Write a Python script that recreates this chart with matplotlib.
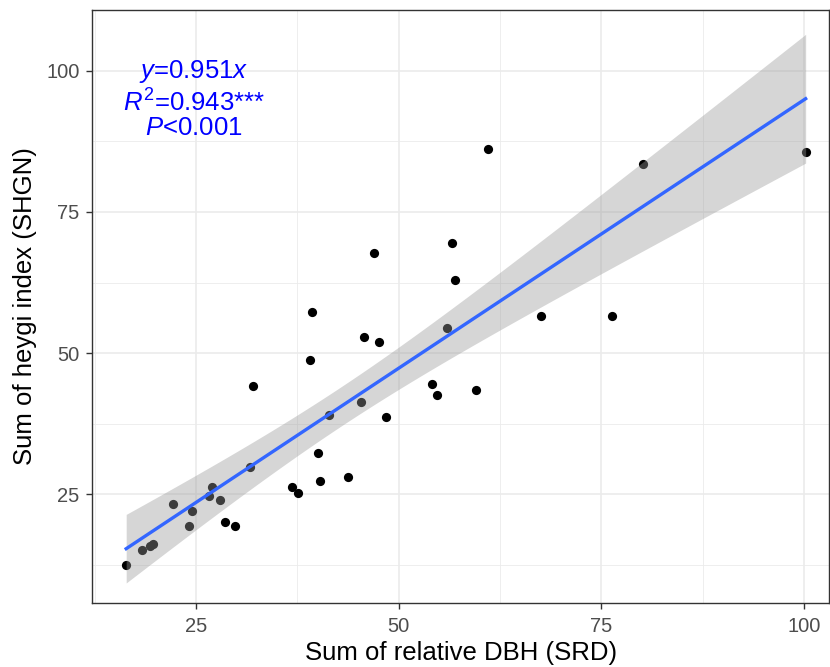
import matplotlib
matplotlib.use("Agg")
import matplotlib.pyplot as plt
import numpy as np

plt.rcParams["font.family"] = ["Liberation Sans", "DejaVu Sans"]
plt.rcParams["mathtext.fontset"] = "custom"
plt.rcParams["mathtext.rm"] = "Liberation Sans"
plt.rcParams["mathtext.it"] = "Liberation Sans:italic"

# Sum of relative DBH (SRD) vs sum of heygi index (SHGN)
srd = [16.4, 18.3, 19.3, 19.7, 22.2, 24.5, 24.2, 26.6, 27.0, 28.0,
       28.6, 29.8, 31.7, 32.1, 36.9, 37.6, 40.1, 40.3, 41.4, 43.7,
       39.3, 39.1, 47.0, 45.7, 47.6, 45.3, 48.4, 56.6, 57.0, 56.0,
       54.1, 54.7, 59.6, 61.0, 80.1, 100.2, 67.5, 76.3]
shgn = [12.5, 15.1, 15.8, 16.1, 23.2, 22.0, 19.4, 24.6, 26.3, 23.9,
        20.1, 19.4, 29.8, 44.2, 26.2, 25.2, 32.2, 27.4, 39.0, 28.0,
        57.2, 48.7, 67.7, 52.8, 51.9, 41.3, 38.7, 69.5, 62.9, 54.5,
        44.5, 42.6, 43.4, 86.2, 83.5, 85.6, 56.6, 56.6]

x = np.array(srd)
y = np.array(shgn)
n = len(x)

# linear fit with 95% confidence band (as geom_smooth(method = "lm"))
b, a = np.polyfit(x, y, 1)
resid = y - (a + b * x)
s = np.sqrt(np.sum(resid ** 2) / (n - 2))
t = 2.028
xs = np.linspace(x.min(), x.max(), 200)
ys = a + b * xs
se = s * np.sqrt(1 / n + (xs - x.mean()) ** 2 / np.sum((x - x.mean()) ** 2))

fig = plt.figure(figsize=(8.3, 6.67), dpi=100)
ax = fig.add_axes([0.111, 0.096, 0.888, 0.889])

ax.scatter(x, y, s=44, color="black", zorder=2, linewidths=0)
ax.fill_between(xs, ys - t * se, ys + t * se, color="#999999", alpha=0.4,
                linewidth=0, zorder=3)
ax.plot(xs, ys, color="#3366FF", lw=2.4, zorder=4)

ax.set_xlim(12.2, 103.1)
ax.set_ylim(5.7, 110.8)
ax.set_xticks([25, 50, 75, 100])
ax.set_yticks([25, 50, 75, 100])
ax.set_xticks([12.5, 37.5, 62.5, 87.5], minor=True)
ax.set_yticks([12.5, 37.5, 62.5, 87.5], minor=True)
ax.grid(which="major", color="#EBEBEB", lw=1.2, zorder=0)
ax.grid(which="minor", color="#EBEBEB", lw=0.6, zorder=0)
ax.set_axisbelow(True)
for sp in ax.spines.values():
    sp.set_color("#333333")
    sp.set_linewidth(1.0)
ax.tick_params(which="major", length=4, width=1.0, color="#333333",
               labelsize=14.5, labelcolor="#4D4D4D")
ax.tick_params(axis="x", pad=6)
ax.tick_params(axis="y", pad=5)
ax.tick_params(which="minor", length=0)

ax.set_xlabel("Sum of relative DBH (SRD)", fontsize=18.5, labelpad=4)
ax.set_ylabel("Sum of heygi index (SHGN)", fontsize=18.5, labelpad=7)

ax.text(0.138, 0.897, "$\\mathit{y}$=0.951$\\mathit{x}$", transform=ax.transAxes,
        ha="center", va="center", color="blue", fontsize=18.5)
ax.text(0.138, 0.843, "$\\mathit{R}^2$=0.943***", transform=ax.transAxes,
        ha="center", va="center", color="blue", fontsize=18.5)
ax.text(0.138, 0.801, "$\\mathit{P}$<0.001", transform=ax.transAxes,
        ha="center", va="center", color="blue", fontsize=18.5)

fig.savefig("out.png", dpi=100)
